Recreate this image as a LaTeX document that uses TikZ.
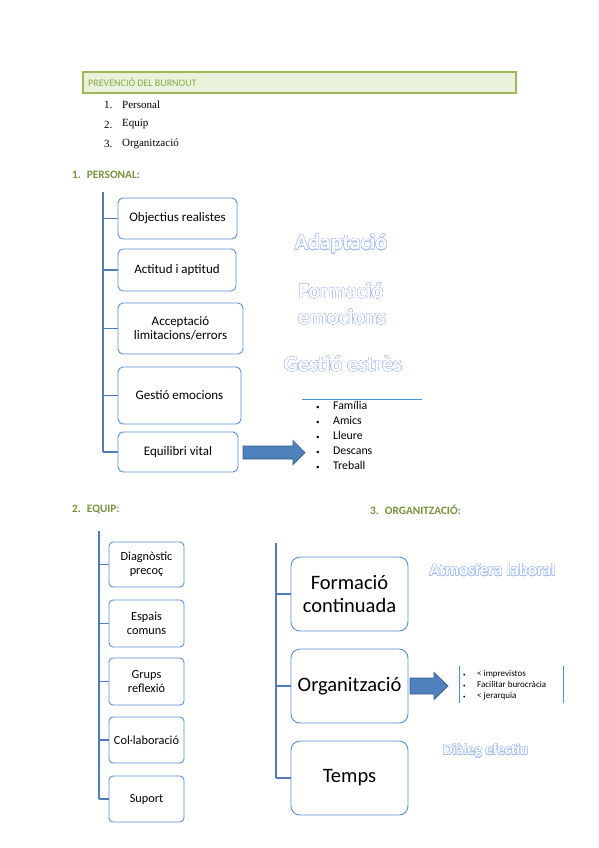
\documentclass[tikz,border=0pt]{standalone}
\usepackage{fontspec}
\setmainfont{Carlito}
\newfontfamily\timesf{Liberation Serif}
\usepackage{contour}
\contourlength{0.35pt}
\contournumber{32}
\definecolor{hdrline}{HTML}{9BBB59}
\definecolor{hdrfill}{HTML}{EAF1DD}
\definecolor{hdrtext}{HTML}{7FAF3F}
\definecolor{secgreen}{HTML}{76923C}
\definecolor{boxblue}{HTML}{5B8FD0}
\definecolor{treeblue}{HTML}{4F7DB9}
\definecolor{arrowblue}{HTML}{4F81BD}
\definecolor{arrowedge}{HTML}{385D8A}
\definecolor{outl}{HTML}{A8C0F4}
\definecolor{listline}{HTML}{4A90D9}
\begin{document}
\begin{tikzpicture}[x=1pt,y=-1pt,
  tbox/.style={draw=boxblue, line width=0.9pt, fill=white, align=center, inner sep=0pt},
  pbox/.style={tbox, rounded corners=5pt, font=\fontsize{13}{14.5}\selectfont},
  ebox/.style={tbox, rounded corners=4pt, minimum width=75pt, font=\fontsize{12.3}{14}\selectfont},
  obox/.style={tbox, rounded corners=9pt, minimum width=117pt, minimum height=74pt, font=\fontsize{20.5}{23}\selectfont},
  tree/.style={draw=treeblue, line width=1.4pt},
  blockarr/.style={fill=arrowblue, draw=arrowedge, line width=0.7pt},
  heading/.style={anchor=west, inner sep=0pt, text=secgreen, font=\fontsize{11.3}{13}\selectfont\bfseries},
  outlined/.style={inner sep=0pt, text=white, font=\bfseries},
  numitem/.style={anchor=west, inner sep=0pt, font=\timesf\fontsize{11}{12}\selectfont}
]
\useasboundingbox (0,0) rectangle (599,848);

% header
\node[draw=hdrline, fill=hdrfill, line width=1.4pt, minimum width=433pt, minimum height=21pt, inner sep=0pt] (hdrbox) at (299.5,82.5) {};
\node[anchor=west, inner sep=0pt, text=hdrtext, font=\fontsize{10}{12}\selectfont] (hdrtxt) at (88,82.5) {PREVENCIÓ DEL BURNOUT};

% numbered list
\node[numitem] (n1) at (104,105) {1.};
\node[numitem] (n1t) at (122,105) {Personal};
\node[numitem] (n2) at (104,124.5) {2.};
\node[numitem] (n2t) at (122,124.5) {Equip};
\node[numitem] (n3) at (104,143.5) {3.};
\node[numitem] (n3t) at (122,143.5) {Organització};

% section 1
\node[heading] (s1) at (72,175) {1.\hspace{6pt}PERSONAL:};
\node[pbox, minimum width=119pt, minimum height=41pt] (p1) at (177.5,218.5) {Objectius realistes};
\node[pbox, minimum width=118pt, minimum height=42pt] (p2) at (177,270) {Actitud i aptitud};
\node[pbox, minimum width=125pt, minimum height=51pt] (p3) at (180.5,328.5) {Acceptació\\limitacions/errors};
\node[pbox, minimum width=123pt, minimum height=57pt] (p4) at (179.5,395.5) {Gestió emocions};
\node[pbox, minimum width=120pt, minimum height=40pt] (p5) at (178,452) {Equilibri vital};
\coordinate (pt) at (103,192);
\coordinate (pb) at (103,452);
\draw[tree] (pt) -- (pb);
\foreach \b in {p1,p2,p3,p4,p5} \draw[tree] (\b.west) -- (\b.west -| pt);

\node[outlined, font=\fontsize{22}{24}\selectfont\bfseries] (w1) at (341,244) {\contour{outl}{Adaptació}};
\node[outlined, font=\fontsize{22}{24}\selectfont\bfseries] (w2) at (341,291) {\contour{outl}{Formació}};
\node[outlined, font=\fontsize{22}{24}\selectfont\bfseries] (w3) at (342,317) {\contour{outl}{emocions}};
\node[outlined, font=\fontsize{22}{24}\selectfont\bfseries] (w4) at (343,364) {\contour{outl}{Gestió estrès}};

% arrow 1 and list
\draw[blockarr] (243,446) -- (293,446) -- (293,440.5) -- (305,452.5) -- (293,464.5) -- (293,459) -- (243,459) -- cycle;
\coordinate (l1a) at (302,399);
\coordinate (l1b) at (422,399);
\draw[draw=listline, line width=0.8pt] (l1a) -- (l1b);
\node[anchor=north west, inner sep=0pt, align=left, font=\fontsize{11.8}{15}\selectfont] (list1) at (316,401)
 {\makebox[17pt][l]{\scriptsize•}Família\\ \makebox[17pt][l]{\scriptsize•}Amics\\ \makebox[17pt][l]{\scriptsize•}Lleure\\ \makebox[17pt][l]{\scriptsize•}Descans\\ \makebox[17pt][l]{\scriptsize•}Treball};

% section 2
\node[heading] (s2) at (72,509) {2.\hspace{6pt}EQUIP:};
\node[ebox, minimum height=45pt] (e1) at (146.5,564.5) {Diagnòstic\\precoç};
\node[ebox, minimum height=47pt] (e2) at (146.5,623.5) {Espais\\comuns};
\node[ebox, minimum height=47pt] (e3) at (146.5,681.5) {Grups\\reflexió};
\node[ebox, minimum height=46pt] (e4) at (146.5,740) {Col·laboració};
\node[ebox, minimum height=46pt] (e5) at (146.5,799) {Suport};
\coordinate (et) at (99,531);
\coordinate (eb) at (99,799);
\draw[tree] (et) -- (eb);
\foreach \b in {e1,e2,e3,e4,e5} \draw[tree] (\b.west) -- (\b.west -| et);

% section 3
\node[heading] (s3) at (370,510) {3.\hspace{6pt}ORGANITZACIÓ:};
\node[obox] (o1) at (349.5,594) {Formació\\continuada};
\node[obox] (o2) at (349.5,686) {Organització};
\node[obox] (o3) at (349.5,778) {Temps};
\coordinate (ot) at (276,543);
\coordinate (ob) at (276,778);
\draw[tree] (ot) -- (ob);
\foreach \b in {o1,o2,o3} \draw[tree] (\b.west) -- (\b.west -| ot);

\node[outlined, font=\fontsize{17}{19}\selectfont\bfseries] (w5) at (492.5,570) {\contour{outl}{Atmosfera laboral}};
\node[outlined, font=\fontsize{15}{17}\selectfont\bfseries] (w6) at (485.5,751) {\contour{outl}{Diàleg efectiu}};

% arrow 2 and list
\draw[blockarr] (410,678) -- (434,678) -- (434,672.5) -- (448,686) -- (434,699.5) -- (434,694) -- (410,694) -- cycle;
\coordinate (l2a) at (459,666);
\coordinate (l2b) at (459,703);
\coordinate (l2c) at (563,666);
\coordinate (l2d) at (563,703);
\draw[draw=listline, line width=0.8pt] (l2a) -- (l2b);
\draw[draw=listline, line width=0.8pt] (l2c) -- (l2d);
\node[anchor=west, inner sep=0pt, align=left, font=\fontsize{9}{11}\selectfont] (list2) at (463,685.5)
 {\makebox[14pt][l]{\tiny•}< imprevistos\\ \makebox[14pt][l]{\tiny•}Facilitar burocràcia\\ \makebox[14pt][l]{\tiny•}< jerarquia};
\end{tikzpicture}
\end{document}
